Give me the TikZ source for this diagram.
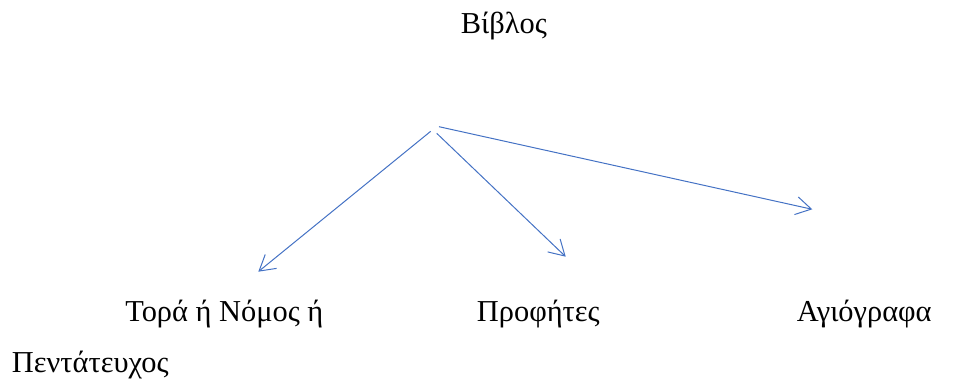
\documentclass[tikz,border=0pt]{standalone}
\usepackage{fontspec}
\setmainfont{Liberation Serif}
\usepackage{tikz}
\usetikzlibrary{arrows.meta}
\definecolor{wordblue}{HTML}{4472C4}

\begin{document}
\begin{tikzpicture}[x=0.75pt,y=-0.75pt,
    lbl/.style={inner sep=0pt, anchor=base west, font=\fontsize{22.8}{27}\selectfont},
    arr/.style={draw=wordblue, line width=0.75pt, -{Straight Barb[length=11.5pt,width=13.5pt,line width=0.75pt]}}]
   \useasboundingbox (0,0) rectangle (954,385);

   \node[lbl] (biblos) at (460.7,33.3) {Βίβλος};

   \node[lbl] (tora) at (125,321.7) {Τορά ή Νόμος ή};
   \node[lbl] (tora2) at (11.7,372.7) {Πεντάτευχος};
   \node[lbl] (profites) at (476.7,321.7) {Προφήτες};
   \node[lbl] (agiografa) at (796.7,321.7) {Αγιόγραφα};

   \coordinate (s1) at (430.7,131.3);
   \coordinate (e1) at (258.3,271.7);
   \coordinate (s2) at (436.7,133.3);
   \coordinate (e2) at (565.7,256.7);
   \coordinate (s3) at (439,126.7);
   \coordinate (e3) at (812.3,209.3);

   \draw[arr] (s1) -- (e1);
   \draw[arr] (s2) -- (e2);
   \draw[arr] (s3) -- (e3);
\end{tikzpicture}
\end{document}
